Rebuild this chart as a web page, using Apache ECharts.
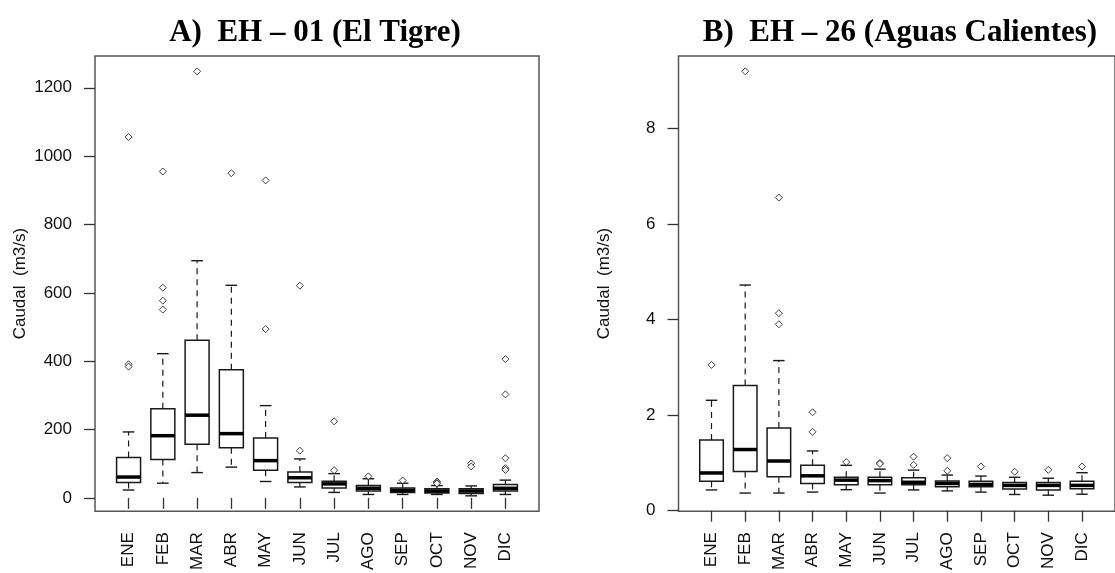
<!DOCTYPE html>
<html>
<head>
<meta charset="utf-8">
<script src="https://cdn.jsdelivr.net/npm/echarts@6/dist/echarts.min.js"></script>
<style>
  html, body { margin: 0; padding: 0; background: #fff; }
  #main { width: 1115px; height: 573px; }
</style>
</head>
<body>
<div id="main"></div>
<script>
const months = ['ENE', 'FEB', 'MAR', 'ABR', 'MAY', 'JUN', 'JUL', 'AGO', 'SEP', 'OCT', 'NOV', 'DIC'];

// A) EH - 01 (El Tigre)
const lowA = [23, 43, 74, 90, 48, 32, 16, 10, 10, 10, 6, 10];
const q1A = [45, 112, 157, 147, 81, 45, 29, 20, 16, 14, 13, 20];
const medA = [61, 182, 242, 188, 109, 59, 41, 28, 22, 20, 20, 28];
const q3A = [118, 261, 461, 375, 175, 76, 49, 36, 29, 27, 27, 39];
const highA = [193, 422, 694, 622, 270, 114, 71, 56, 43, 36, 35, 52];
const outA = [[1056, 391, 384], [955, 615, 577, 551], [1248], [950], [929, 494], [621, 138],
  [224, 81], [63], [51], [48, 44, 42], [101, 92], [406, 303, 116, 87, 82]];
const ticksA = [0, 200, 400, 600, 800, 1000, 1200];

// B) EH - 26 (Aguas Calientes)
const lowB = [0.435, 0.37, 0.37, 0.39, 0.44, 0.37, 0.435, 0.415, 0.39, 0.34, 0.325, 0.345];
const q1B = [0.615, 0.82, 0.71, 0.57, 0.545, 0.545, 0.545, 0.50, 0.50, 0.455, 0.435, 0.46];
const medB = [0.79, 1.28, 1.04, 0.73, 0.64, 0.63, 0.595, 0.57, 0.55, 0.53, 0.53, 0.53];
const q3B = [1.48, 2.62, 1.73, 0.95, 0.70, 0.70, 0.69, 0.62, 0.615, 0.59, 0.59, 0.615];
const highB = [2.31, 4.72, 3.14, 1.25, 0.95, 0.87, 0.85, 0.746, 0.725, 0.70, 0.68, 0.795];
const outB = [[3.05], [9.19], [6.55, 4.13, 3.90], [2.06, 1.65], [1.02], [1.0, 0.98],
  [1.13, 0.96], [1.10, 0.835], [0.925], [0.815], [0.855], [0.925]];
const ticksB = [0, 2, 4, 6, 8];

const positions = months.map((m, i) => i + 1);
const ink = '#1a1a1a';
const sans = "'Liberation Sans', Arial, sans-serif";

function boxData(lo, q1, md, q3, hi) {
  return positions.map((x, i) => [x, lo[i], q1[i], md[i], q3[i], hi[i]]);
}

function outlierData(outs) {
  const pts = [];
  outs.forEach((list, i) => list.forEach((v) => pts.push([i + 1, v])));
  return pts;
}

function renderBox(params, api) {
  const x = api.value(0);
  const lo = api.coord([x, api.value(1)]);
  const q1 = api.coord([x, api.value(2)]);
  const md = api.coord([x, api.value(3)]);
  const q3 = api.coord([x, api.value(4)]);
  const hi = api.coord([x, api.value(5)]);
  const bw = api.size([0.7, 0])[0];
  const sw = api.size([0.34, 0])[0];
  const cx = lo[0];
  const dashed = { stroke: ink, lineWidth: 1.2, lineDash: [6, 5] };
  const solid = { stroke: ink, lineWidth: 1.4 };
  return {
    type: 'group',
    children: [
      { type: 'line', shape: { x1: cx, y1: q3[1], x2: cx, y2: hi[1] }, style: dashed },
      { type: 'line', shape: { x1: cx, y1: q1[1], x2: cx, y2: lo[1] }, style: dashed },
      { type: 'line', shape: { x1: cx - sw / 2, y1: hi[1], x2: cx + sw / 2, y2: hi[1] }, style: solid },
      { type: 'line', shape: { x1: cx - sw / 2, y1: lo[1], x2: cx + sw / 2, y2: lo[1] }, style: solid },
      { type: 'rect', shape: { x: cx - bw / 2, y: q3[1], width: bw, height: q1[1] - q3[1] },
        style: { fill: '#fff', stroke: ink, lineWidth: 1.5 } },
      { type: 'line', shape: { x1: cx - bw / 2, y1: md[1], x2: cx + bw / 2, y2: md[1] },
        style: { stroke: '#000', lineWidth: 3.5 } }
    ]
  };
}

function xAxisFor(gridIndex) {
  return {
    type: 'value', gridIndex: gridIndex, min: 0.02, max: 12.98,
    axisLine: { show: false },
    splitLine: { show: false },
    axisTick: { show: true, length: 11, customValues: positions, lineStyle: { color: '#333', width: 1.3 } },
    axisLabel: {
      customValues: positions, rotate: 90, margin: 21, fontSize: 17, color: '#111', fontFamily: sans,
      formatter: (v) => months[Math.round(v) - 1] || ''
    }
  };
}

function yAxisFor(gridIndex, min, max, ticks) {
  return {
    type: 'value', gridIndex: gridIndex, min: min, max: max,
    name: 'Caudal  (m3/s)', nameLocation: 'middle', nameRotate: 90, nameGap: 66,
    nameTextStyle: { fontSize: 17, color: '#111', fontFamily: sans },
    axisLine: { show: false },
    splitLine: { show: false },
    axisTick: { show: true, length: 11, customValues: ticks, lineStyle: { color: '#333', width: 1.3 } },
    axisLabel: { customValues: ticks, margin: 23, fontSize: 17, color: '#111', fontFamily: sans,
      formatter: (v) => String(v) }
  };
}

const chart = echarts.init(document.getElementById('main'), null, { renderer: 'canvas' });

const option = {
  backgroundColor: '#fff',
  animation: false,
  title: [
    { text: 'A)  EH \u2013 01 (El Tigre)', left: 310, top: 12, textAlign: 'center',
      textStyle: { fontFamily: "'Liberation Serif', 'Times New Roman', serif", fontWeight: 'bold', fontSize: 31, color: '#000' } },
    { text: 'B)  EH \u2013 26 (Aguas Calientes)', left: 895, top: 12, textAlign: 'center',
      textStyle: { fontFamily: "'Liberation Serif', 'Times New Roman', serif", fontWeight: 'bold', fontSize: 31, color: '#000' } }
  ],
  grid: [
    { left: 95, top: 56, width: 444, height: 459.5, show: true, borderColor: '#555', borderWidth: 1.5, backgroundColor: 'transparent' },
    { left: 678.5, top: 56, width: 446.3, height: 459.5, show: true, borderColor: '#555', borderWidth: 1.5, backgroundColor: 'transparent' }
  ],
  xAxis: [xAxisFor(0), xAxisFor(1)],
  yAxis: [yAxisFor(0, -39, 1293, ticksA), yAxisFor(1, -0.01, 9.51, ticksB)],
  series: [
    { type: 'custom', xAxisIndex: 0, yAxisIndex: 0, renderItem: renderBox,
      encode: { x: 0, y: [1, 2, 3, 4, 5] }, data: boxData(lowA, q1A, medA, q3A, highA), z: 2 },
    { type: 'custom', xAxisIndex: 1, yAxisIndex: 1, renderItem: renderBox,
      encode: { x: 0, y: [1, 2, 3, 4, 5] }, data: boxData(lowB, q1B, medB, q3B, highB), z: 2 },
    { type: 'scatter', xAxisIndex: 0, yAxisIndex: 0, symbol: 'diamond', symbolSize: 7, z: 3,
      itemStyle: { color: '#fff', borderColor: '#111', borderWidth: 1 }, data: outlierData(outA) },
    { type: 'scatter', xAxisIndex: 1, yAxisIndex: 1, symbol: 'diamond', symbolSize: 7, z: 3,
      itemStyle: { color: '#fff', borderColor: '#111', borderWidth: 1 }, data: outlierData(outB) }
  ]
};

chart.setOption(option);
</script>
</body>
</html>
